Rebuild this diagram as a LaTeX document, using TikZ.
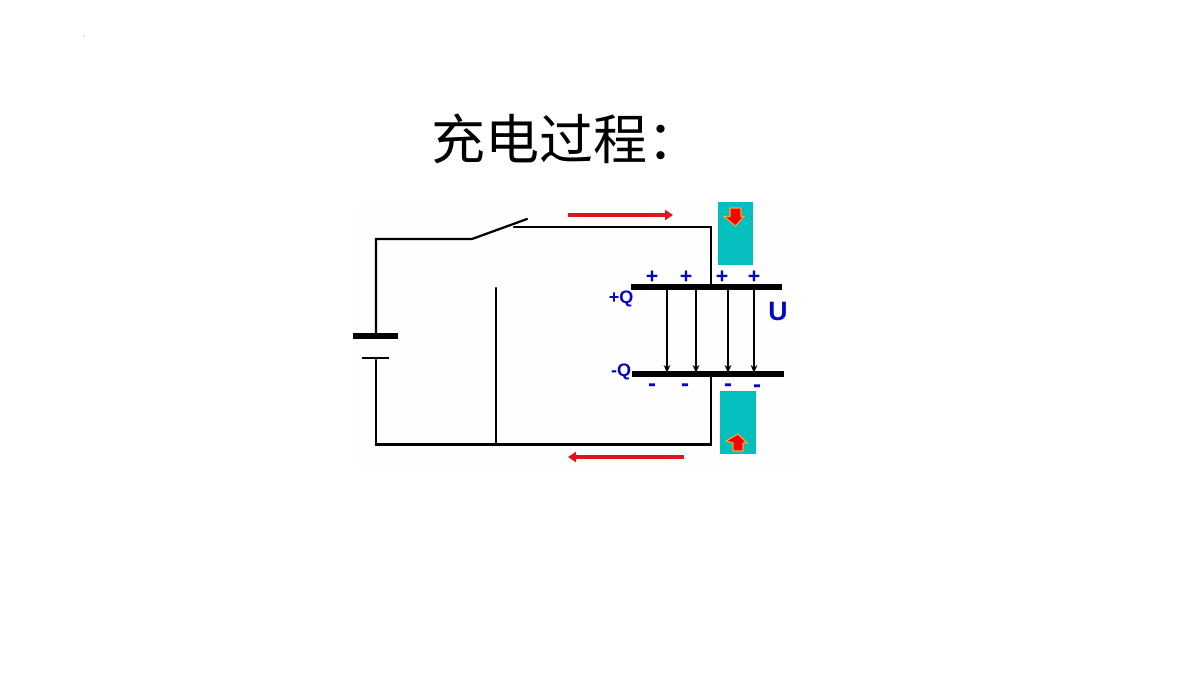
\documentclass[tikz,border=0pt]{standalone}
\usepackage{fontspec}
\setmainfont{Liberation Sans}
\newfontfamily\cjkfont{Noto Sans CJK SC}
\usetikzlibrary{arrows.meta}
\definecolor{chargeblue}{RGB}{5,5,200}
\definecolor{wirered}{RGB}{225,20,30}
\definecolor{cyanbox}{RGB}{5,190,190}
\tikzset{
  x=0.75pt,y=-0.75pt,
  wire/.style={line width=1.7pt,black,line cap=round,line join=miter},
  plate/.style={line width=3.9pt,black},
  field/.style={line width=1pt,black,-{Stealth[length=6pt,width=5pt]}},
  current/.style={line width=2.6pt,wirered,-{Triangle[length=6pt,width=7.5pt]}},
  charge/.style={font=\bfseries\fontsize{16pt}{16pt}\selectfont,text=chargeblue,inner sep=0pt},
  minuscharge/.style={font=\bfseries\fontsize{18pt}{18pt}\selectfont,text=chargeblue,inner sep=0pt},
  qlabel/.style={font=\bfseries\fontsize{13.5pt}{13.5pt}\selectfont,text=chargeblue,inner sep=0pt},
  band/.style={fill=cyanbox,draw=none},
  bigarrow/.style={fill=red,draw={rgb,255:red,245;green,170;blue,40},line width=0.8pt,line join=miter}
}
\begin{document}
\begin{tikzpicture}
\useasboundingbox (0,0) rectangle (1200,675);
\fill[white] (0,0) rectangle (1200,675);
\fill[black!30] (83.5,36.5) circle (0.5);
\fill[black!0.5] (358,203) rectangle (800,466);
% title
\node[inner sep=0pt,anchor=west,font=\cjkfont\fontsize{40.5pt}{40.5pt}\selectfont] (title) at (431,139) {充电过程：};
% cyan bands
\node[band,minimum width=26.2pt,minimum height=47.2pt,inner sep=0pt] (bandtop) at (735.5,233.5) {};
\node[band,minimum width=27pt,minimum height=47.2pt,inner sep=0pt] (bandbot) at (738,422.5) {};
\draw[bigarrow] (730,208) -- (741,208) -- (741,216.5) -- (744,216.5) -- (735.5,226) -- (724,216.5) -- (730,216.5) -- cycle;
\draw[bigarrow] (733,451) -- (743,451) -- (743,443) -- (747,443) -- (738,434) -- (726,441) -- (733,443) -- cycle;
% coordinates
\coordinate (bl) at (376,239);
\coordinate (sw1) at (472,239);
\coordinate (sw2) at (527,219);
\coordinate (ct) at (514,227);
\coordinate (tr) at (711,227);
\coordinate (ptj) at (711,287);
\coordinate (pbj) at (711,374);
\coordinate (br) at (711,444.5);
\coordinate (bbl) at (376,444.5);
\coordinate (batA) at (376,336);
\coordinate (batB) at (376,360);
\coordinate (midt) at (496,288);
\coordinate (midb) at (496,444.5);
% wires
\draw[wire] (batA) -- (bl) -- (sw1) -- (sw2);
\draw[wire] (ct) -- (tr) -- (ptj);
\draw[wire] (batB) -- (bbl) -- (br) -- (pbj);
\draw[wire] (midt) -- (midb);
% battery
\draw[plate] (353,336) -- (398,336);
\draw[line width=1.8pt] (362,358) -- (389,358);
% plates
\coordinate (pt1) at (631,287); \coordinate (pt2) at (782,287);
\coordinate (pb1) at (632,374); \coordinate (pb2) at (784,374);
\draw[plate] (pt1) -- (pt2);
\draw[plate] (pb1) -- (pb2);
% field
\foreach \x in {667,696,728,754} \draw[field] (\x,287) -- (\x,373);
% currents
\coordinate (c1a) at (568,215); \coordinate (c1b) at (673,215);
\coordinate (c2a) at (684,457); \coordinate (c2b) at (568,457);
\draw[current] (c1a) -- (c1b);
\draw[current] (c2a) -- (c2b);
% charges
\node[charge] (p1) at (652,277) {+};
\node[charge] (p2) at (686,277) {+};
\node[charge] (p3) at (722,277) {+};
\node[charge] (p4) at (754,277) {+};
\node[minuscharge] (m1) at (652,387.5) {-};
\node[minuscharge] (m2) at (685,387.5) {-};
\node[minuscharge] (m3) at (728,387.5) {-};
\node[minuscharge] (m4) at (757,388.5) {-};
\node[qlabel] (qp) at (621,299) {+Q};
\node[qlabel] (qm) at (621,372) {-Q};
\node[inner sep=0pt,font=\bfseries\fontsize{20pt}{20pt}\selectfont,text=chargeblue] (u) at (778,311) {U};
\end{tikzpicture}
\end{document}
